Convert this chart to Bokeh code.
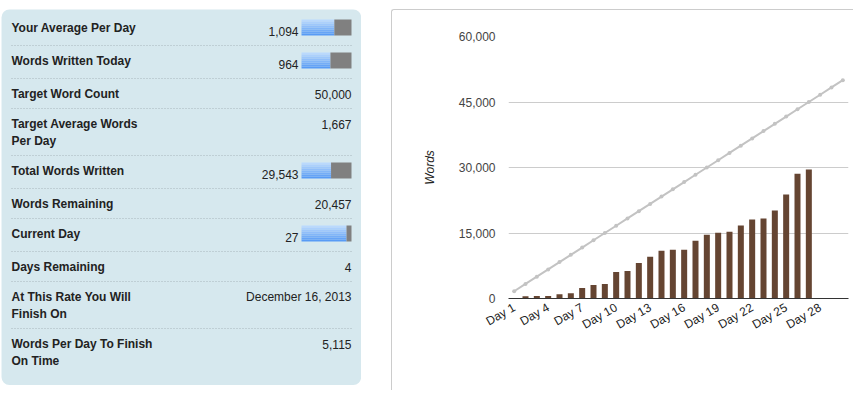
import math
from bokeh.plotting import figure
from bokeh.models import Range1d, FixedTicker, NumeralTickFormatter, Spacer
from bokeh.layouts import row, column
from bokeh.core.properties import value
from bokeh.embed import file_html
from bokeh.resources import INLINE

# ---------------- data ----------------
stat_labels = [
    "Your Average Per Day",
    "Words Written Today",
    "Target Word Count",
    "Target Average Words\nPer Day",
    "Total Words Written",
    "Words Remaining",
    "Current Day",
    "Days Remaining",
    "At This Rate You Will\nFinish On",
    "Words Per Day To Finish\nOn Time",
]
stat_values = ["1,094", "964", "50,000", "1,667", "29,543", "20,457", "27", "4",
               "December 16, 2013", "5,115"]
progress_now = [1094, 964, None, None, 29543, None, 27, None, None, None]
progress_goal = [1667, 1667, None, None, 50000, None, 30, None, None, None]

days = ["Day %d" % i for i in range(1, 31)]
day_numbers = list(range(1, 31))
target_words = [1667, 3333, 5000, 6667, 8333, 10000, 11667, 13333, 15000, 16667,
                18333, 20000, 21667, 23333, 25000, 26667, 28333, 30000, 31667, 33333,
                35000, 36667, 38333, 40000, 41667, 43333, 45000, 46667, 48333, 50000]
written_words = [0, 520, 560, 580, 1000, 1230, 2380, 3080, 3300, 6075, 6300, 8150,
                 9540, 10920, 11150, 11150, 13230, 14610, 15070, 15300, 16690, 18070,
                 18300, 20150, 23800, 28579, 29543]
x_tick_days = [1, 4, 7, 10, 13, 16, 19, 22, 25, 28]
y_ticks = [0, 15000, 30000, 45000, 60000]

FONT_NAME = "Liberation Sans"
FONT = value(FONT_NAME)
H = 390

# ---------------- left stats panel ----------------
left = figure(width=361, height=H, x_range=Range1d(0, 361), y_range=Range1d(H, 0),
              x_axis_type=None, y_axis_type=None, toolbar_location=None,
              output_backend="svg", min_border=0, frame_align=False)
left.outline_line_color = None
left.grid.visible = False
left.background_fill_color = "white"
left.border_fill_color = "white"

left.quad(left=[1], right=[360.7], top=[9], bottom=[384.5], border_radius=8,
          fill_color="#d6e8ee", line_color=None)

lab_x, lab_y, lab_t = [], [], []
val_x, val_y, val_t = [], [], []
sep_y = []
bar_rows = []
top = 12.0
for i, lab in enumerate(stat_labels):
    lines = lab.split("\n")
    has_bar = progress_now[i] is not None
    for k, ln in enumerate(lines):
        lab_x.append(11)
        lab_y.append(top + 15.7 + 16.5 * k)
        lab_t.append(ln)
    if has_bar:
        val_x.append(298)
        val_y.append(top + 18.5)
        bar_rows.append((top + 7, progress_now[i] / progress_goal[i]))
    else:
        val_x.append(351)
        val_y.append(top + 15.7)
    val_t.append(stat_values[i])
    h = 30 + (3 if has_bar else 0) + 17 * (len(lines) - 1)
    top += h
    if i < len(stat_labels) - 1:
        sep_y.append(top)

for y in sep_y:
    left.line(x=[11, 351], y=[y, y], line_color="#a9b6bc", line_width=1, line_dash="1 2")

c0 = (186, 217, 253)
c1 = (88, 155, 245)
nstrip = 8
for (bt, frac) in bar_rows:
    bx = 301 + 50 * frac
    for s in range(nstrip):
        t = s / (nstrip - 1)
        col = "#%02x%02x%02x" % tuple(int(round(c0[j] + (c1[j] - c0[j]) * t)) for j in range(3))
        left.quad(left=[301], right=[bx], top=[bt + 2 * s], bottom=[bt + 2 * s + 2],
                  fill_color=col, line_color=None)
    left.quad(left=[bx], right=[351], top=[bt], bottom=[bt + 16],
              fill_color="#808080", line_color=None)

left.text(x=lab_x, y=lab_y, text=lab_t, text_font=FONT, text_font_size="12px",
          text_font_style="bold", text_color="#222222", text_baseline="middle",
          text_align="left")
left.text(x=val_x, y=val_y, text=val_t, text_font=FONT, text_font_size="12px",
          text_color="#222222", text_baseline="middle", text_align="right")

# ---------------- right chart ----------------
p = figure(width=462, height=H - 9, x_range=Range1d(0.5, 30.5),
           y_range=Range1d(0, 60000), toolbar_location=None, output_backend="svg",
           min_border_left=116, min_border_right=6, min_border_top=26,
           min_border_bottom=H - 297, frame_align=False,
           styles={"border-top": "1px solid #cccccc", "border-left": "1px solid #cccccc",
                   "border-top-left-radius": "3px"})
p.outline_line_color = None
p.background_fill_color = "white"
p.border_fill_color = "white"
p.xgrid.visible = False
p.ygrid.grid_line_color = "#cccccc"
p.ygrid.ticker = FixedTicker(ticks=y_ticks)

p.vbar(x=day_numbers[:len(written_words)], top=written_words, width=0.53,
       fill_color="#654532", line_color=None)
p.line(x=day_numbers, y=target_words, line_color="#c3c3c3", line_width=2)
p.scatter(x=day_numbers, y=target_words, size=4, fill_color="#c3c3c3", line_color=None)

xa = p.xaxis[0]
xa.ticker = FixedTicker(ticks=x_tick_days)
xa.major_label_overrides = {d: days[d - 1] for d in x_tick_days}
xa.axis_line_color = "#333333"
xa.major_tick_line_color = None
xa.minor_tick_line_color = None
xa.major_tick_out = 0
xa.major_tick_in = 0
xa.major_label_orientation = math.pi / 6
xa.major_label_standoff = 8
xa.major_label_text_font = FONT_NAME
xa.major_label_text_font_size = "12px"
xa.major_label_text_color = "#222222"

ya = p.yaxis[0]
ya.ticker = FixedTicker(ticks=y_ticks)
ya.formatter = NumeralTickFormatter(format="0,0")
ya.axis_line_color = None
ya.major_tick_line_color = None
ya.minor_tick_line_color = None
ya.major_tick_out = 0
ya.major_tick_in = 0
ya.major_label_standoff = 13
ya.major_label_text_font = FONT_NAME
ya.major_label_text_font_size = "12px"
ya.major_label_text_color = "#444444"
ya.axis_label = "Words"
ya.axis_label_text_font = FONT_NAME
ya.axis_label_text_font_size = "12px"
ya.axis_label_text_font_style = "italic"
ya.axis_label_text_color = "#222222"
ya.axis_label_standoff = 19

layout = row(left, column(Spacer(width=462, height=9), p, spacing=0), spacing=30)

open("out.html", "w").write(file_html(layout, INLINE))
